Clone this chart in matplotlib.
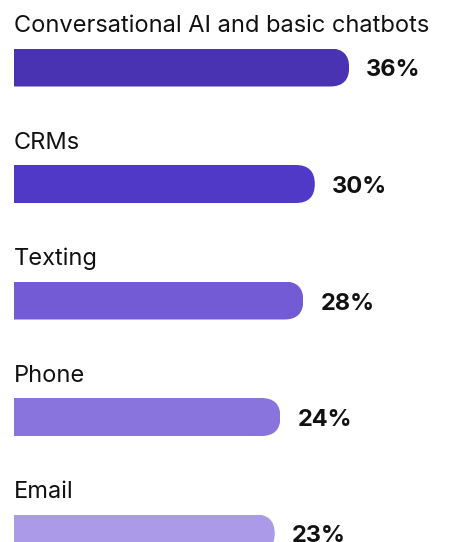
import matplotlib
matplotlib.use("Agg")
import matplotlib.pyplot as plt
from matplotlib.patches import FancyBboxPatch

categories = ["Conversational AI and basic chatbots", "CRMs", "Texting", "Phone", "Email"]
values = [36, 30, 28, 24, 23]
colors = ["#4a33b3", "#5139c8", "#725bd5", "#8874dc", "#aa9ae8"]

plt.rcParams['font.family'] = ['Inter', 'DejaVu Sans']

fig = plt.figure(figsize=(4.54, 5.42), dpi=100)
ax = fig.add_axes([0, 0, 1, 1])

# x in percent, y in pixels from the top
x_min, x_max = -24.96, 54.3
ax.set_xlim(x_min, x_max)
ax.set_ylim(542, 0)
ax.axis('off')

bar_left = -22.5
bar_h = 38
y_first, y_step = 67.5, 116.5
px_per_unit = 454 / (x_max - x_min)

for i, (cat, val, col) in enumerate(zip(categories, values, colors)):
    yc = y_first + i * y_step
    b = ax.barh([yc], [val - bar_left], left=bar_left, height=bar_h,
                color=col, linewidth=0)[0]
    # clip each bar to a pill shape that starts off-axes, so only the right end is round
    r = bar_h / 2 / px_per_unit
    pill = FancyBboxPatch((x_min - 10, b.get_y()), val - x_min + 10, b.get_height(),
                          boxstyle=f"round,pad=0,rounding_size={r}",
                          mutation_aspect=px_per_unit, transform=ax.transData,
                          facecolor='none', edgecolor='none')
    b.set_clip_path(pill)
    ax.text(bar_left, yc - bar_h / 2 - 16, cat, fontsize=17, color='#111111',
            ha='left', va='baseline')
    ax.text(val + 3.0, yc + 3, f"{val}%", fontsize=17, fontweight='bold',
            color='#111111', ha='left', va='center')

fig.savefig("out.png", dpi=100)
